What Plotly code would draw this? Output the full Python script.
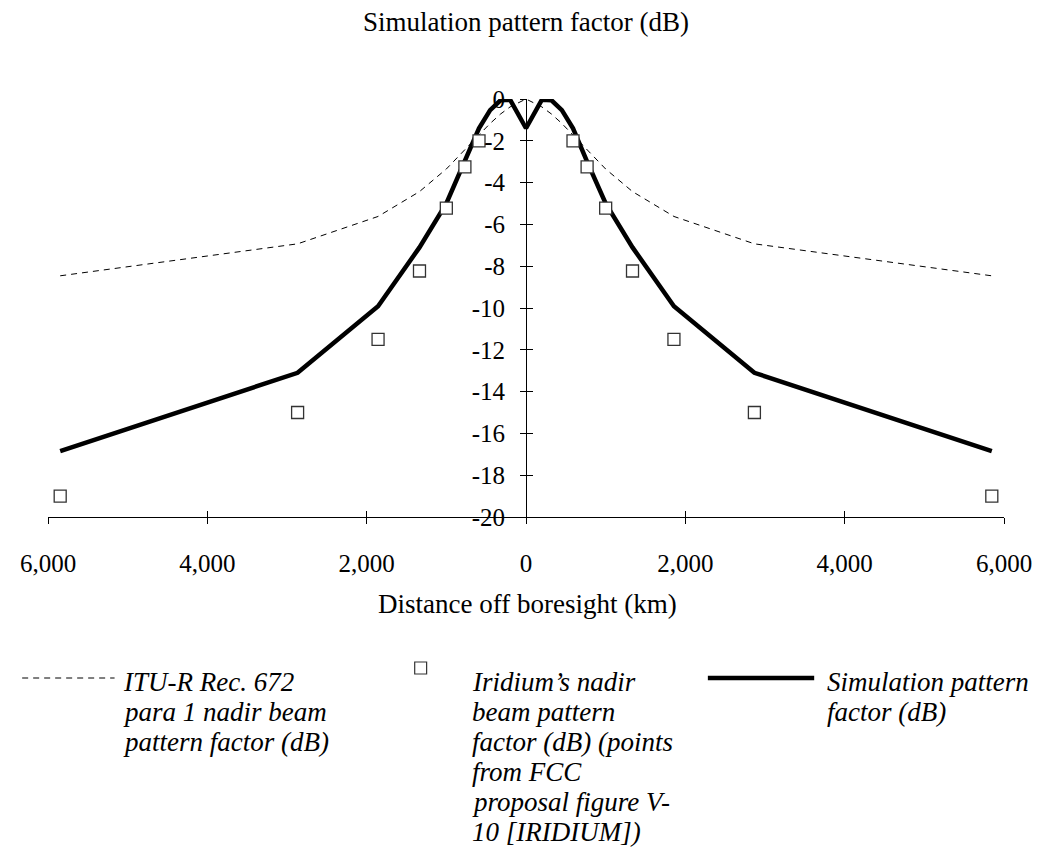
import plotly.graph_objects as go

# ---------------- data ----------------
# ITU-R Rec. 672 para 1 nadir beam pattern factor (dB)
itu_x = [-5847, -2867, -1857, -1337, -1000, -767, -590, -450, -320, -200, 0,
         200, 320, 450, 590, 767, 1000, 1337, 1857, 2867, 5847]
itu_y = [-8.46, -6.93, -5.62, -4.43, -3.35, -2.45, -1.72, -1.17, -0.72, -0.38, 0.0,
         -0.38, -0.72, -1.17, -1.72, -2.45, -3.35, -4.43, -5.62, -6.93, -8.46]

# Iridium's nadir beam pattern factor (dB)
iri_x = [-5847, -2867, -1857, -1337, -1000, -767, -590,
         590, 767, 1000, 1337, 1857, 2867, 5847]
iri_y = [-19.0, -15.0, -11.5, -8.23, -5.22, -3.25, -2.0,
         -2.0, -3.25, -5.22, -8.23, -11.5, -15.0, -19.0]

# Simulation pattern factor (dB)
sim_x = [-5847, -2867, -1857, -1337, -1000, -767, -590, -450, -320, -200, 0,
         200, 320, 450, 590, 767, 1000, 1337, 1857, 2867, 5847]
sim_y = [-16.85, -13.1, -9.92, -7.1, -5.0, -3.0, -1.4, -0.53, -0.06, -0.03, -1.4,
         -0.03, -0.06, -0.53, -1.4, -3.0, -5.0, -7.1, -9.92, -13.1, -16.85]

x_tickvals = [-6000, -4000, -2000, 0, 2000, 4000, 6000]
x_ticktext = ["6,000", "4,000", "2,000", "0", "2,000", "4,000", "6,000"]
y_tickvals = [0, -2, -4, -6, -8, -10, -12, -14, -16, -18, -20]
y_ticktext = ["0", "-2", "-4", "-6", "-8", "-10", "-12", "-14", "-16", "-18", "-20"]

chart_title = "Simulation pattern factor (dB)"
x_title = "Distance off boresight (km)"
legend_lines = [
    ["ITU-R Rec. 672", "para 1 nadir beam", "pattern factor (dB)"],
    ["Iridium\u2019s nadir", "beam pattern", "factor (dB) (points",
     "from FCC", "proposal figure V-", "10 [IRIDIUM])"],
    ["Simulation pattern", "factor (dB)"],
]

# ---------------- layout constants ----------------
OFF = 8                      # page body margin of the browser
W, H = 1044 - OFF, 848 - OFF
L, T = 43 - OFF, 99 - OFF
plot_w, plot_h = 962, 418
R, B = W - L - plot_w, H - T - plot_h
FONT = "Liberation Serif"


def px(x):  # page pixel x -> paper
    return (x - OFF - L) / plot_w


def py(y):  # page pixel y -> paper
    return (T + plot_h - (y - OFF)) / plot_h


fig = go.Figure()

fig.add_trace(go.Scatter(
    x=itu_x, y=itu_y, mode="lines",
    line=dict(color="black", width=1, dash="6px,5px"),
    showlegend=False, hoverinfo="skip"))

fig.add_trace(go.Scatter(
    x=sim_x, y=sim_y, mode="lines",
    line=dict(color="black", width=4.5),
    showlegend=False, hoverinfo="skip"))

fig.add_trace(go.Scatter(
    x=iri_x, y=iri_y, mode="markers",
    marker=dict(symbol="square", size=12, color="white",
                line=dict(color="#333333", width=1.3)),
    showlegend=False, hoverinfo="skip"))

tick_font = dict(family=FONT, size=25, color="black")

fig.update_layout(
    width=W, height=H,
    margin=dict(l=L, r=R, t=T, b=B),
    paper_bgcolor="white", plot_bgcolor="white",
    font=dict(family=FONT, size=25, color="black"),
    title=dict(text=chart_title, x=px(524), xref="paper", xanchor="center",
               y=1 - (22 - OFF) / H, yref="container", yanchor="middle",
               font=dict(family=FONT, size=27, color="black")),
    xaxis=dict(range=[-6000, 6000], domain=[0, 1], tickvals=x_tickvals,
               ticktext=x_ticktext, ticks="outside", ticklen=6,
               tickcolor="black", showline=True, linecolor="black",
               linewidth=1, showgrid=False, zeroline=False, anchor="y",
               tickfont=tick_font, ticklabelstandoff=18),
    xaxis2=dict(range=[-6000, 6000], overlaying="x", matches="x",
                tickvals=x_tickvals, ticks="inside", ticklen=6,
                tickcolor="black", showticklabels=False, showline=False,
                showgrid=False, zeroline=False, anchor="y", side="bottom"),
    yaxis=dict(range=[-20, 0], tickvals=y_tickvals, ticktext=y_ticktext,
               ticks="outside", ticklen=6, tickcolor="black", showline=True,
               linecolor="black", linewidth=1, showgrid=False,
               zeroline=False, anchor="free", position=0.5,
               tickfont=tick_font, ticklabelstandoff=10),
    yaxis2=dict(range=[-20, 0], overlaying="y", matches="y",
                tickvals=y_tickvals, ticks="inside", ticklen=6,
                tickcolor="black", showticklabels=False, showline=False,
                showgrid=False, zeroline=False, anchor="free", position=0.5),
)

# dummy trace to activate secondary axes (crossing tick marks)
fig.add_trace(go.Scatter(x=[None], y=[None], xaxis="x2", yaxis="y2",
                         showlegend=False, hoverinfo="skip"))

ann = [dict(text=x_title, xref="paper", yref="paper", x=px(526), y=py(604),
            xanchor="center", yanchor="middle", showarrow=False,
            font=dict(family=FONT, size=27, color="black"))]

# ---------------- manual legend ----------------
leg_font = dict(family=FONT, size=27, color="black")
LINE0 = 682
shapes = [
    dict(type="line", xref="paper", yref="paper", x0=px(17), x1=px(110),
         y0=py(LINE0 - 4), y1=py(LINE0 - 4),
         line=dict(color="black", width=1, dash="6px,5px")),
    dict(type="rect", xref="paper", yref="paper", x0=px(412), x1=px(424),
         y0=py(662), y1=py(674), line=dict(color="#333333", width=1.2),
         fillcolor="white"),
    dict(type="line", xref="paper", yref="paper", x0=px(707), x1=px(814),
         y0=py(LINE0 - 4), y1=py(LINE0 - 4), line=dict(color="black", width=4.5)),
]
LINE_GAP = 30
for xpos, lines in zip([116, 468, 825], legend_lines):
    for i, line in enumerate(lines):
        ann.append(dict(text="<i>" + line + "</i>", xref="paper", yref="paper",
                        x=px(xpos), y=py(LINE0 + i * LINE_GAP), xanchor="left",
                        yanchor="middle", align="left", showarrow=False,
                        font=leg_font))
fig.update_layout(shapes=shapes, annotations=ann)

fig.write_html("out.html")
